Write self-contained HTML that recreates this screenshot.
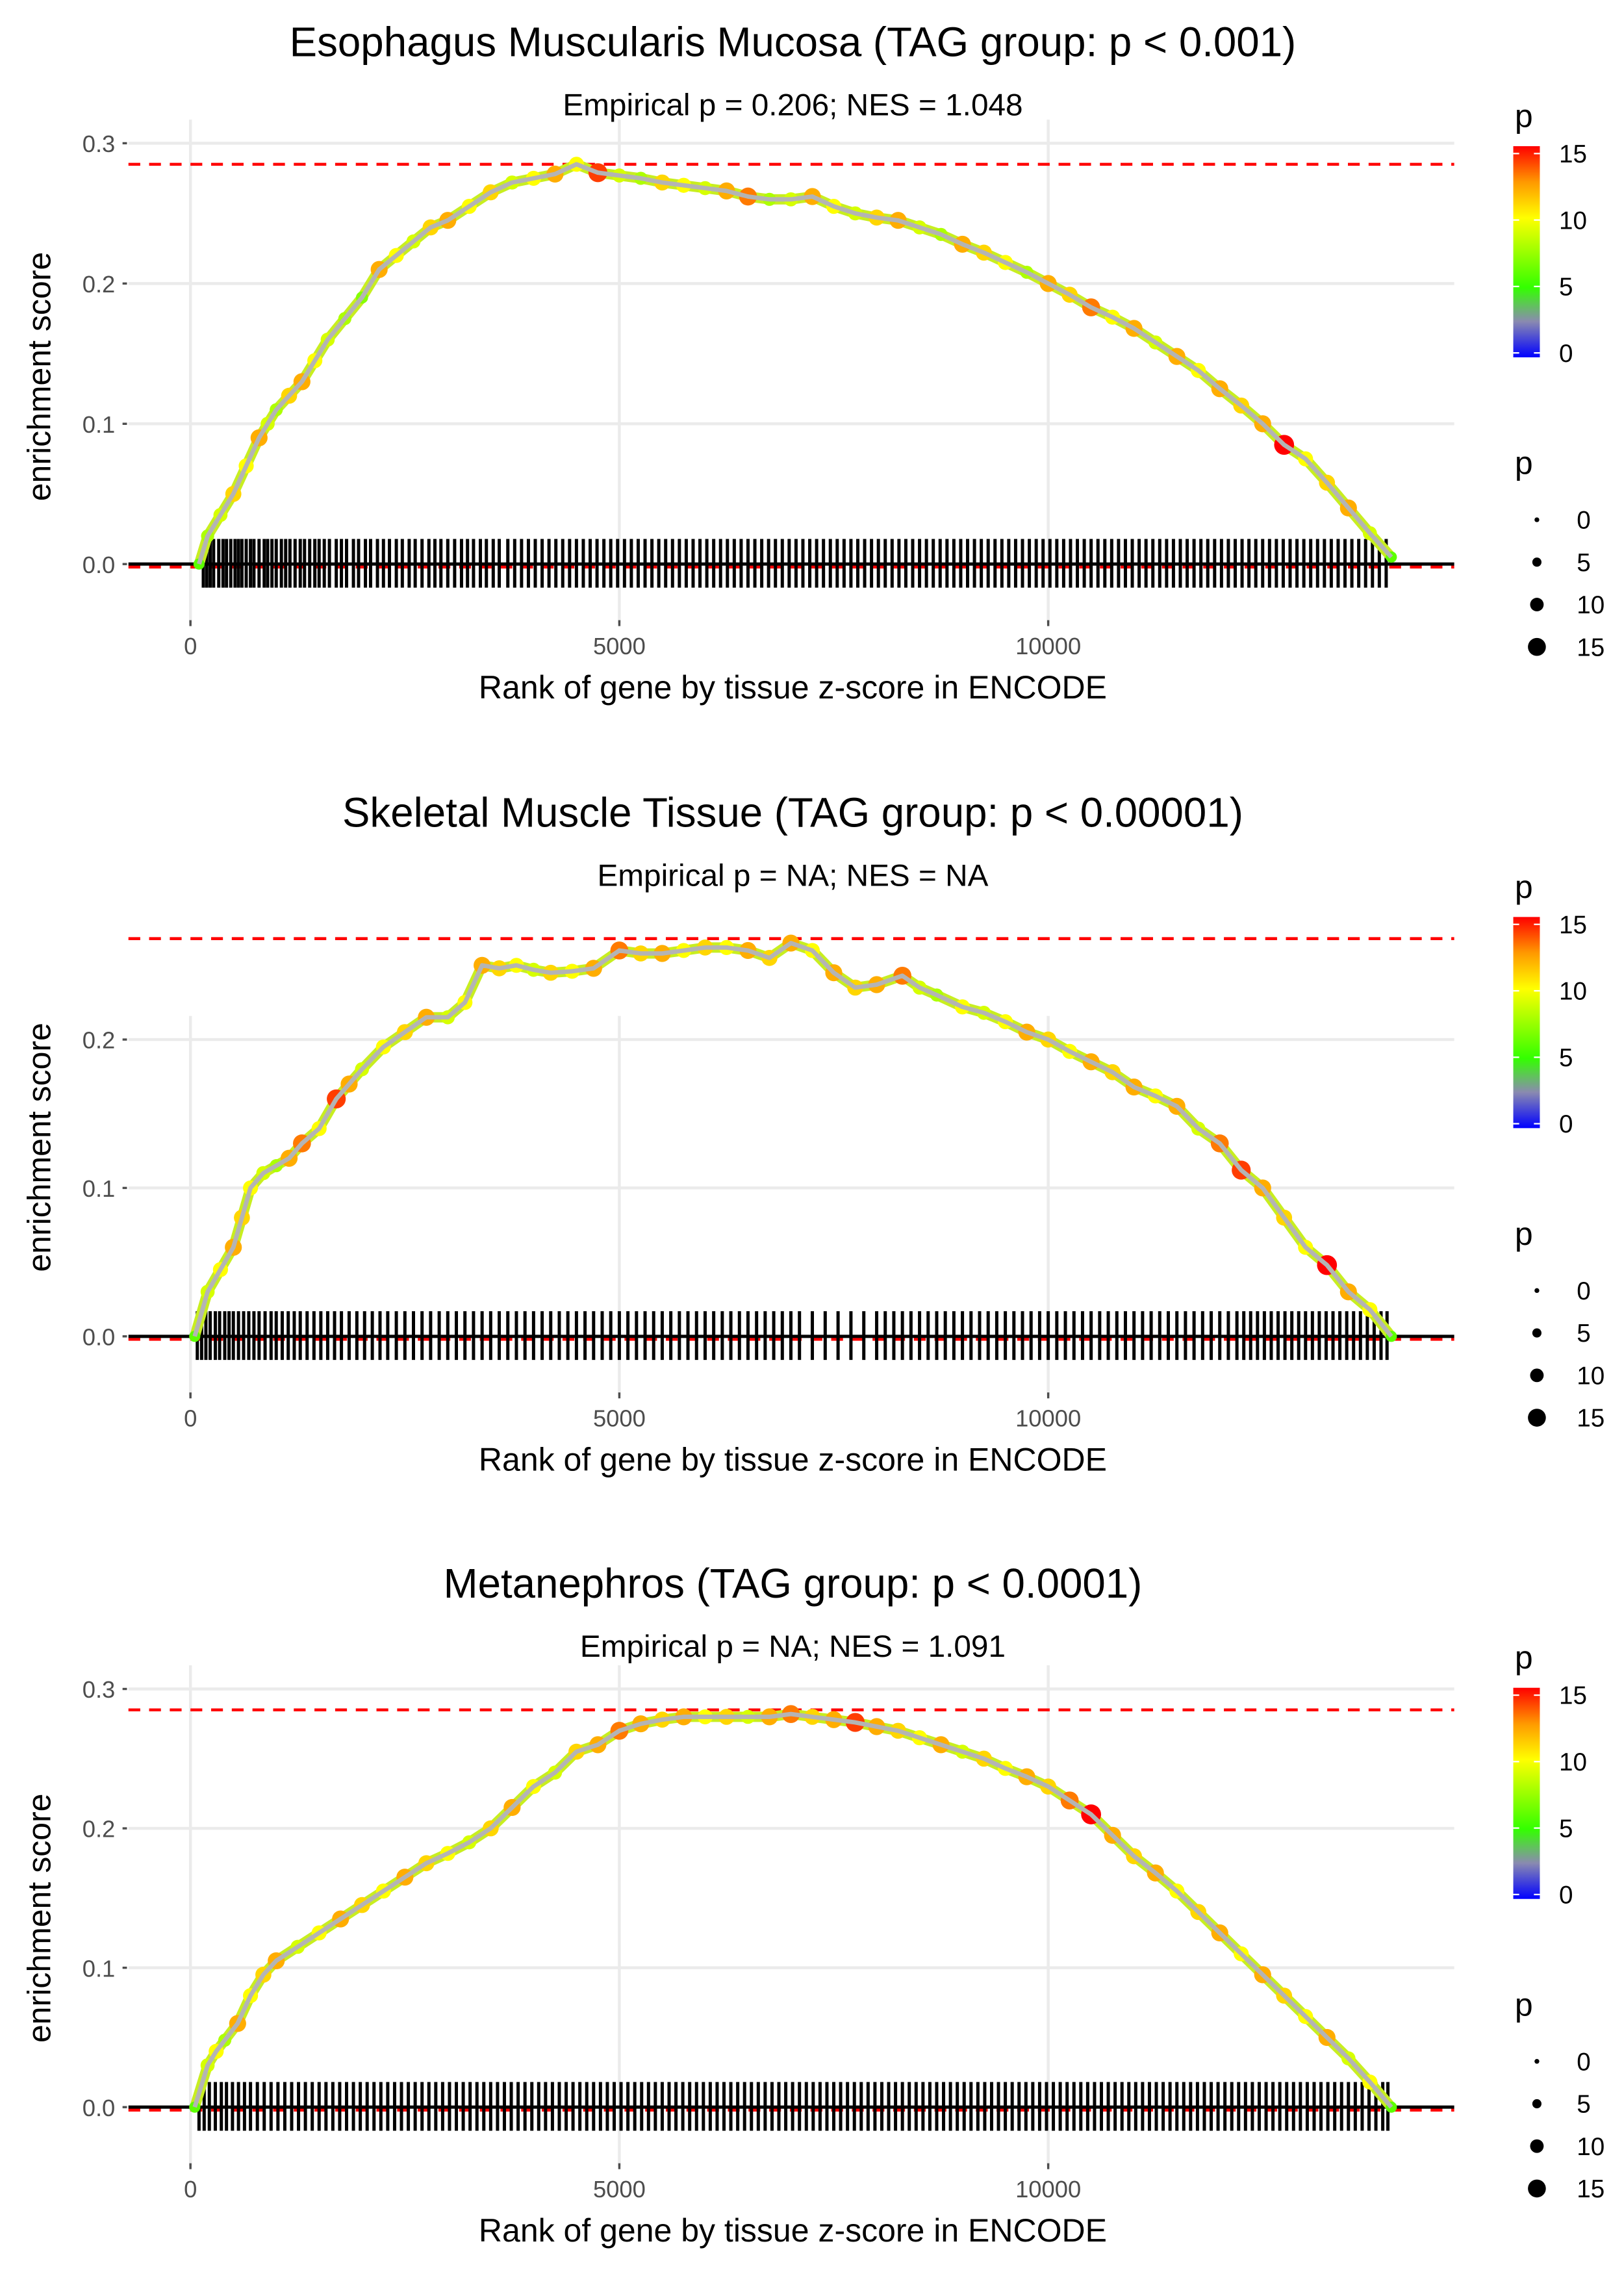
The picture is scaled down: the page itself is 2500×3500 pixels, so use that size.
<!DOCTYPE html>
<html><head><meta charset="utf-8"><style>html,body{margin:0;padding:0;background:#fff}svg{display:block}</style></head>
<body>
<svg id="chart" xmlns="http://www.w3.org/2000/svg" width="2500" height="3500" viewBox="0 0 1100 1540" preserveAspectRatio="none" font-family="Liberation Sans, sans-serif">
<defs>
<linearGradient id="cg" x1="0" y1="1" x2="0" y2="0">
<stop offset="0" stop-color="#0000ff"/><stop offset="0.17" stop-color="#8a8ab0"/><stop offset="0.33" stop-color="#33ff00"/><stop offset="0.66" stop-color="#ffff00"/><stop offset="0.83" stop-color="#ff9900"/><stop offset="1" stop-color="#ff0000"/>
</linearGradient>
</defs>
</svg>
<script>
// ---- data ----
const titles = ["Esophagus Muscularis Mucosa (TAG group: p < 0.001)","Skeletal Muscle Tissue (TAG group: p < 0.00001)","Metanephros (TAG group: p < 0.0001)"];
const subtitles = ["Empirical p = 0.206; NES = 1.048","Empirical p = NA; NES = NA","Empirical p = NA; NES = 1.091"];
const maxES = [0.285, 0.268, 0.285];
const yTicks = [[0,0.1,0.2,0.3],[0,0.1,0.2],[0,0.1,0.2,0.3]];
const yTickLabels = [["0.0","0.1","0.2","0.3"],["0.0","0.1","0.2"],["0.0","0.1","0.2","0.3"]];
const xTicks = [0,5000,10000];
const xTickLabels = ["0","5000","10000"];
const ranks1 = [100,200,350,500,650,800,900,1000,1150,1300,1450,1600,1800,2000,2200,2400,2600,2800,3000,3250,3500,3750,4000,4250,4500,4750,5000,5250,5500,5750,6000,6250,6500,6750,7000,7250,7500,7750,8000,8250,8500,8750,9000,9250,9500,9750,10000,10250,10500,10750,11000,11250,11500,11750,12000,12250,12500,12750,13000,13250,13500,13750,14000];
const es1 = [0,0.02,0.035,0.05,0.07,0.09,0.1,0.11,0.12,0.13,0.145,0.16,0.175,0.19,0.21,0.22,0.23,0.24,0.245,0.255,0.265,0.272,0.275,0.278,0.285,0.279,0.277,0.275,0.272,0.27,0.268,0.266,0.262,0.26,0.26,0.262,0.255,0.25,0.247,0.245,0.24,0.235,0.228,0.222,0.215,0.208,0.2,0.192,0.183,0.176,0.168,0.158,0.148,0.138,0.125,0.113,0.1,0.085,0.075,0.058,0.04,0.022,0.005];
const p1 = [6,8,9,11,10,12,9,8,11,12,10,9,8,7,12,10,9,11,12,10,11,9,10,12,10,14,9,8,11,10,9,12,13,8,9,12,10,9,11,12,9,8,12,11,10,8,12,11,13,10,12,9,12,10,12,11,12,15,10,11,12,9,6];
const ranks2 = [50,200,350,500,600,700,850,1000,1150,1300,1500,1700,1850,2000,2250,2500,2750,3000,3200,3400,3600,3800,4000,4200,4450,4700,5000,5250,5500,5750,6000,6250,6500,6750,7000,7250,7500,7750,8000,8300,8500,8700,9000,9250,9500,9750,10000,10250,10500,10750,11000,11250,11500,11750,12000,12250,12500,12750,13000,13250,13500,13750,14000];
const es2 = [0,0.03,0.045,0.06,0.08,0.1,0.11,0.115,0.12,0.13,0.14,0.16,0.17,0.18,0.195,0.205,0.215,0.215,0.225,0.25,0.248,0.25,0.247,0.245,0.246,0.248,0.26,0.258,0.258,0.26,0.262,0.262,0.26,0.255,0.265,0.26,0.245,0.235,0.237,0.243,0.235,0.23,0.222,0.218,0.212,0.205,0.2,0.192,0.185,0.178,0.168,0.162,0.155,0.14,0.13,0.112,0.1,0.08,0.06,0.048,0.03,0.018,0];
const p2 = [6,9,10,12,11,10,9,8,12,13,10,14,12,9,10,11,12,9,10,12,11,10,9,11,10,12,13,11,12,10,11,10,12,11,12,10,12,11,12,13,9,8,10,9,10,12,11,10,12,11,12,10,12,9,13,14,12,11,10,15,12,10,6];
const ranks3 = [50,200,300,400,550,700,850,1000,1250,1500,1750,2000,2250,2500,2750,3000,3250,3500,3750,4000,4250,4500,4750,5000,5250,5500,5750,6000,6250,6500,6750,7000,7250,7500,7750,8000,8250,8500,8750,9000,9250,9500,9750,10000,10250,10500,10750,11000,11250,11500,11750,12000,12250,12500,12750,13000,13250,13500,13750,14000];
const es3 = [0,0.03,0.04,0.048,0.06,0.08,0.095,0.105,0.115,0.125,0.135,0.145,0.155,0.165,0.175,0.182,0.19,0.2,0.215,0.23,0.24,0.255,0.26,0.27,0.275,0.278,0.28,0.28,0.28,0.28,0.28,0.282,0.28,0.278,0.276,0.273,0.27,0.265,0.26,0.255,0.25,0.243,0.237,0.23,0.22,0.21,0.195,0.18,0.168,0.155,0.14,0.125,0.11,0.095,0.08,0.065,0.05,0.035,0.018,0];
const p3 = [6,9,10,8,12,10,11,12,9,10,12,11,10,12,11,10,9,11,12,10,9,11,12,13,12,11,12,10,11,9,12,13,11,12,14,12,11,10,12,9,11,10,12,11,13,15,12,11,12,10,11,12,10,12,11,10,12,9,10,6];
const rug1 = [150,190,230,270,330,380,420,470,520,560,600,650,700,740,800,860,900,950,1000,1060,1110,1160,1220,1280,1330,1390,1450,1500,1560,1620,1700,1760,1820,1900,1960,2040,2100,2180,2250,2320,2400,2470,2550,2620,2700,2780,2850,2920,3000,3080,3160,3230,3300,3380,3450,3530,3600,3700,3780,3860,3940,4020,4100,4180,4260,4340,4420,4500,4580,4660,4740,4820,4900,4980,5060,5140,5220,5300,5380,5460,5540,5620,5700,5780,5860,5940,6020,6100,6180,6260,6340,6420,6500,6580,6660,6740,6820,6900,6980,7060,7140,7220,7300,7380,7460,7540,7620,7700,7780,7860,7940,8020,8100,8180,8260,8340,8420,8500,8580,8660,8740,8820,8900,8980,9060,9140,9220,9300,9380,9460,9540,9620,9700,9780,9860,9940,10020,10100,10180,10260,10340,10420,10500,10580,10660,10740,10820,10900,10980,11060,11140,11220,11300,11380,11460,11540,11620,11700,11780,11860,11940,12020,12100,12180,12260,12340,12420,12500,12580,12660,12740,12820,12900,12980,13060,13140,13220,13300,13380,13460,13540,13620,13700,13780,13860,13940];
const rug2 = [80,130,180,230,290,340,400,450,500,560,620,680,740,800,870,940,1000,1070,1140,1210,1280,1360,1440,1520,1600,1680,1760,1850,1940,2030,2120,2210,2300,2400,2500,2600,2700,2800,2900,3000,3100,3200,3300,3400,3500,3600,3700,3800,3900,4000,4100,4200,4300,4400,4500,4600,4700,4800,4900,5000,5100,5200,5300,5400,5500,5600,5700,5800,5900,6000,6100,6200,6300,6400,6500,6600,6700,6800,6900,7000,7100,7250,7400,7550,7700,7850,8000,8100,8200,8300,8400,8500,8600,8700,8800,8900,9000,9100,9200,9300,9400,9500,9600,9700,9800,9900,10000,10100,10200,10300,10400,10500,10600,10700,10800,10900,11000,11100,11200,11300,11400,11500,11600,11700,11800,11900,12000,12100,12200,12280,12360,12440,12520,12600,12680,12760,12840,12920,13000,13080,13160,13240,13320,13400,13480,13560,13640,13720,13800,13880,13950];
const rug3 = [100,160,220,290,360,420,490,560,630,700,780,860,940,1020,1100,1180,1260,1340,1420,1500,1580,1660,1740,1820,1900,1980,2060,2140,2220,2300,2380,2460,2540,2620,2700,2780,2860,2940,3020,3100,3180,3260,3340,3420,3500,3580,3660,3740,3820,3900,3980,4060,4140,4220,4300,4380,4460,4540,4620,4700,4780,4860,4940,5020,5100,5180,5260,5340,5420,5500,5580,5660,5740,5820,5900,5980,6060,6140,6220,6300,6380,6460,6540,6620,6700,6780,6860,6940,7020,7100,7180,7260,7340,7420,7500,7580,7660,7740,7820,7900,7980,8060,8140,8220,8300,8380,8460,8540,8620,8700,8780,8860,8940,9020,9100,9180,9260,9340,9420,9500,9580,9660,9740,9820,9900,9980,10060,10140,10220,10300,10380,10460,10540,10620,10700,10780,10860,10940,11020,11100,11180,11260,11340,11420,11500,11580,11660,11740,11820,11900,11980,12060,12140,12220,12300,12380,12460,12540,12620,12700,12780,12860,12940,13020,13100,13180,13260,13340,13420,13500,13580,13660,13740,13820,13900,13960];
const legendColorTicks = [0,5,10,15];
const legendSizeTicks = [0,5,10,15];

const allRanks=[ranks1,ranks2,ranks3], allES=[es1,es2,es3], allP=[p1,p2,p3], allRug=[rug1,rug2,rug3];
// ---- layout ----
const svg=document.getElementById('chart');
const NS='http://www.w3.org/2000/svg';
function mk(tag,attrs,parent){const e=document.createElementNS(NS,tag);for(const k in attrs)e.setAttribute(k,attrs[k]);(parent||svg).appendChild(e);return e;}
const panels=[{off:0,y0:382,ppu:950},{off:522,y0:905,ppu:1005},{off:1044,y0:1427,ppu:944}];
const xs=v=>129+v*0.05810;
const PL=87, PR=985;
function colorOf(p){
  const stops=[[0,[0,0,255]],[2.5,[138,138,176]],[5,[51,255,0]],[10,[255,255,0]],[12.5,[255,153,0]],[15,[255,0,0]]];
  p=Math.max(0,Math.min(15,p));
  for(let i=0;i<stops.length-1;i++){const a=stops[i],b=stops[i+1];if(p<=b[0]){const t=(p-a[0])/(b[0]-a[0]);return 'rgb('+a[1].map((c,j)=>Math.round(c+(b[1][j]-c)*t)).join(',')+')';}}
  return 'rgb(255,0,0)';
}
const rOf=p=>1.8+p*0.33;

panels.forEach((P,i)=>{
  const ys=v=>P.y0-v*P.ppu;
  const g=mk('g',{});
  
  
  const top=ys(yTicks[i][yTicks[i].length-1])-8, bot=P.y0+25;
  yTicks[i].forEach((t,k)=>{
    const l=mk('line',{x1:PL,x2:PR,y1:ys(t),y2:ys(t),stroke:'#ebebeb','stroke-width':2},g);
    
    
    const tk=mk('line',{x1:PL-4,x2:PL-1,y1:ys(t),y2:ys(t),stroke:'#4d4d4d','stroke-width':1.5},g);
    
    
    const tx=mk('text',{x:PL-9,y:ys(t)+6,'text-anchor':'end','font-size':16,fill:'#4d4d4d'},g);
    tx.textContent=yTickLabels[i][k];
    
    
  });
  xTicks.forEach((t,k)=>{
    const l=mk('line',{x1:xs(t),x2:xs(t),y1:top-8,y2:bot+15,stroke:'#ebebeb','stroke-width':2},g);
    
    
    const tk=mk('line',{x1:xs(t),x2:xs(t),y1:P.y0+38,y2:P.y0+42,stroke:'#4d4d4d','stroke-width':1.5},g);
    
    
    const tx=mk('text',{x:xs(t),y:P.y0+61,'text-anchor':'middle','font-size':16,fill:'#4d4d4d'},g);
    tx.textContent=xTickLabels[k];
    
    
  });
  [maxES[i],0].forEach(v=>{
    const l=mk('line',{x1:PL,x2:PR,y1:ys(v)+(v===0?2:0),y2:ys(v)+(v===0?2:0),stroke:'#ff0000','stroke-width':2,'stroke-dasharray':'8,6'},g);
    
    
  });
  allRug[i].forEach(r=>{
    const l=mk('line',{x1:xs(r),x2:xs(r),y1:P.y0-17,y2:P.y0+16,stroke:'#000','stroke-width':2.2},g);
    
    
  });
  const zl=mk('line',{x1:PL,x2:PR,y1:P.y0,y2:P.y0,stroke:'#000','stroke-width':2.2},g);
  
  
  const pts=allRanks[i].map((r,k)=>xs(r)+','+ys(allES[i][k])).join(' ');
  const band=mk('polyline',{points:pts,fill:'none',stroke:'#c8ee20','stroke-width':7,'stroke-linejoin':'round','stroke-linecap':'round'},g);
  
  
  allRanks[i].forEach((r,k)=>{
    const p=allP[i][k];
    const c=mk('circle',{cx:xs(r),cy:ys(allES[i][k]),r:rOf(p),fill:colorOf(p)},g);
    
    
  });
  const ln=mk('polyline',{points:pts,fill:'none',stroke:'#b4b4b4','stroke-width':3,'stroke-linejoin':'round'},g);
  
  
  const t=mk('text',{x:537,y:P.off+38,'text-anchor':'middle','font-size':28,fill:'#000'},g);
  t.textContent=titles[i];
  
  
  const st=mk('text',{x:537,y:P.off+78,'text-anchor':'middle','font-size':21,fill:'#000'},g);
  st.textContent=subtitles[i];
  
  
  const xt=mk('text',{x:537,y:P.y0+91,'text-anchor':'middle','font-size':22,fill:'#000'},g);
  xt.textContent='Rank of gene by tissue z-score in ENCODE';
  
  
  const yc=P.off+255;
  const yt=mk('text',{x:0,y:0,transform:'translate(34,'+yc+') rotate(-90)','text-anchor':'middle','font-size':22,fill:'#000'},g);
  yt.textContent='enrichment score';
  
  
  const lt=mk('text',{x:1026,y:P.off+86,'font-size':22},g);
  lt.textContent='p';
  
  
  const cb=mk('rect',{x:1025,y:P.off+99,width:18,height:143,fill:'url(#cg)'},g);
  
  
  legendColorTicks.forEach(v=>{
    const yy=P.off+239-v*(135/15);
    mk('line',{x1:1025,x2:1029,y1:yy,y2:yy,stroke:'#fff','stroke-width':1},g);
    mk('line',{x1:1039,x2:1043,y1:yy,y2:yy,stroke:'#fff','stroke-width':1},g);
    const tx=mk('text',{x:1056,y:yy+6,'font-size':17},g);
    tx.textContent=String(v);
    
    
  });
  const st2=mk('text',{x:1026,y:P.off+321,'font-size':22},g);
  st2.textContent='p';
  
  
  legendSizeTicks.forEach((v,k)=>{
    const yy=P.off+352+k*28.7;
    const c=mk('circle',{cx:1041,cy:yy,r:rOf(v)*0.9,fill:'#000'},g);
    
    
    const tx=mk('text',{x:1068,y:yy+6,'font-size':17},g);
    tx.textContent=String(v);
    
    
  });
});
</script>
</body></html>
